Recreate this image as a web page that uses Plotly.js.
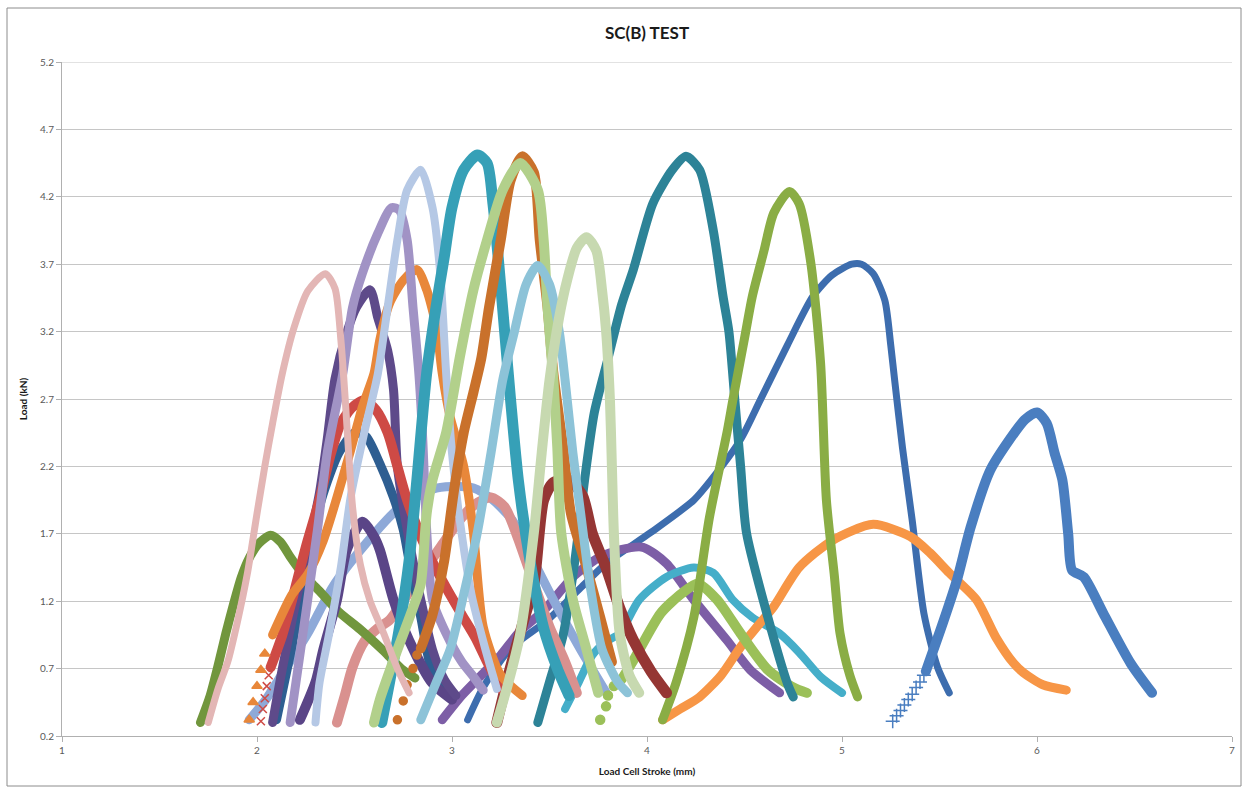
<!DOCTYPE html>
<html>
<head>
<meta charset="utf-8">
<script src="https://cdn.plot.ly/plotly-3.0.1.min.js"></script>
<style>
  html, body { margin: 0; padding: 0; background: #ffffff; }
  #chart { width: 1244px; height: 788px; }
  #chart path.js-line { stroke-linecap: round; stroke-linejoin: round; }
</style>
</head>
<body>
<div id="chart"></div>
<script>
// Load (kN) against load cell stroke (mm) for each SC(B) specimen
const s01x = [1.71,1.76,1.80,1.84,1.88,1.92,1.96,2.01,2.07,2.12,2.17,2.22,2.27,2.33,2.42,2.53,2.65,2.74,2.81];
const s01y = [0.30,0.50,0.72,0.96,1.18,1.38,1.52,1.63,1.69,1.64,1.53,1.43,1.35,1.26,1.12,0.99,0.83,0.70,0.63];

const s02x = [1.75,1.80,1.85,1.90,1.95,2.00,2.04,2.08,2.13,2.19,2.26,2.35,2.40,2.43,2.45,2.47,2.49,2.53,2.58,2.65,2.72,2.78];
const s02y = [0.30,0.55,0.75,1.05,1.40,1.85,2.20,2.52,2.89,3.23,3.50,3.63,3.52,3.14,2.75,2.30,1.90,1.47,1.20,0.96,0.70,0.52];

const s03x = [2.08,2.13,2.20,2.27,2.32,2.36,2.40,2.46,2.51,2.58,2.62,2.67,2.70,2.72,2.78,2.84,2.90,2.96,3.02];
const s03y = [0.30,0.70,1.20,1.65,2.00,2.40,2.85,3.19,3.38,3.51,3.30,3.06,2.77,2.20,1.65,1.21,0.84,0.62,0.50];

const s04x = [2.07,2.13,2.18,2.25,2.32,2.38,2.43,2.49,2.55,2.61,2.67,2.72,2.77,2.87,2.97,3.05,3.12,3.18,3.25];
const s04y = [0.71,0.95,1.21,1.60,1.95,2.30,2.52,2.64,2.69,2.62,2.45,2.20,1.95,1.58,1.30,1.10,0.93,0.75,0.55];
const s04markX = [2.02,2.03,2.04,2.05,2.06];
const s04markY = [0.31,0.40,0.48,0.57,0.65];

const s05x = [2.10,2.17,2.25,2.33,2.42,2.50,2.56,2.63,2.70,2.75,2.78,2.84,2.90,2.99];
const s05y = [0.32,0.80,1.40,1.95,2.30,2.45,2.42,2.22,1.97,1.73,1.50,1.08,0.67,0.52];

const s06x = [2.08,2.18,2.26,2.34,2.41,2.48,2.54,2.60,2.63,2.68,2.75,2.82,2.87,2.92,2.95,2.99,3.06,3.11,3.16,3.25,3.36];
const s06y = [0.95,1.25,1.40,1.65,1.97,2.32,2.64,2.89,3.14,3.41,3.58,3.66,3.51,3.23,2.89,2.57,2.20,1.71,1.01,0.65,0.50];
const s06markX = [1.96,1.98,2.00,2.02,2.04];
const s06markY = [0.32,0.45,0.57,0.69,0.81];

const s07x = [2.17,2.20,2.26,2.31,2.36,2.44,2.49,2.54,2.62,2.69,2.73,2.77,2.80,2.83,2.85,2.87,2.90,2.97,3.05,3.11,3.16];
const s07y = [0.30,0.60,1.21,1.73,2.30,2.89,3.38,3.63,3.93,4.12,4.10,3.88,3.38,2.89,2.40,1.73,1.21,0.96,0.75,0.64,0.54];

const s08x = [2.30,2.32,2.37,2.43,2.48,2.55,2.62,2.67,2.72,2.77,2.84,2.90,2.94,2.97,3.00,3.04,3.10,3.17,3.23];
const s08y = [0.30,0.59,0.96,1.45,1.97,2.45,2.89,3.38,3.88,4.25,4.40,4.12,3.63,2.89,2.30,1.80,1.25,0.85,0.55];

const s09x = [2.22,2.30,2.34,2.41,2.46,2.54,2.60,2.63,2.70,2.78,2.90,3.00];
const s09y = [0.32,0.60,0.84,1.21,1.58,1.79,1.68,1.58,1.21,0.91,0.59,0.47];

const s10x = [1.96,2.05,2.12,2.26,2.39,2.56,2.72,2.90,3.00,3.11,3.21,3.31,3.40,3.52,3.66,3.80];
const s10y = [0.32,0.48,0.64,0.96,1.31,1.63,1.88,2.03,2.05,2.04,1.95,1.80,1.55,1.21,0.84,0.50];

const s11x = [2.41,2.45,2.49,2.55,2.62,2.68,2.80,2.94,3.05,3.12,3.20,3.27,3.33,3.42,3.50,3.58,3.64];
const s11y = [0.30,0.50,0.71,0.90,1.00,1.06,1.31,1.60,1.82,1.92,1.97,1.90,1.70,1.33,1.01,0.75,0.52];

const s12x = [2.64,2.68,2.73,2.78,2.82,2.87,2.92,2.96,3.00,3.06,3.13,3.18,3.21,3.24,3.27,3.30,3.34,3.40,3.47,3.54,3.60];
const s12y = [0.30,0.60,1.00,1.50,2.10,2.89,3.40,3.75,4.12,4.40,4.51,4.45,4.15,3.70,3.20,2.70,2.10,1.50,1.00,0.70,0.50];

const s13x = [2.84,2.90,2.96,3.01,3.06,3.11,3.15,3.19,3.25,3.30,3.36,3.42,3.45,3.49,3.52,3.57,3.61,3.69,3.76,3.82];
const s13y = [0.85,1.10,1.50,2.02,2.45,2.75,3.00,3.38,3.88,4.32,4.50,4.38,3.88,3.38,2.89,2.34,1.85,1.45,1.08,0.75];
const s13markX = [2.72,2.75,2.77,2.80,2.82];
const s13markY = [0.32,0.46,0.58,0.70,0.80];

const s14x = [2.60,2.63,2.72,2.80,2.84,2.87,2.90,2.97,3.04,3.11,3.18,3.26,3.35,3.44,3.47,3.49,3.52,3.54,3.56,3.62,3.69,3.75];
const s14y = [0.30,0.47,0.84,1.15,1.33,1.85,2.10,2.45,3.01,3.51,3.88,4.25,4.45,4.25,3.88,3.38,2.84,2.34,1.71,1.21,0.84,0.52];

const s15x = [2.84,2.92,2.99,3.06,3.13,3.20,3.26,3.32,3.38,3.44,3.50,3.55,3.58,3.62,3.66,3.71,3.77,3.85,3.90];
const s15y = [0.32,0.60,0.84,1.25,1.71,2.30,2.84,3.20,3.55,3.69,3.55,3.20,2.84,2.30,1.85,1.30,0.84,0.60,0.52];

const s16x = [3.23,3.29,3.35,3.42,3.46,3.50,3.55,3.59,3.64,3.69,3.74,3.77,3.79,3.81,3.82,3.83,3.86,3.91,3.96];
const s16y = [0.30,0.60,0.96,1.71,2.30,2.84,3.31,3.58,3.82,3.90,3.80,3.50,3.21,2.69,2.20,1.71,0.96,0.65,0.52];

const s17x = [3.23,3.30,3.36,3.42,3.47,3.52,3.60,3.67,3.72,3.79,3.86,3.93,4.02,4.10];
const s17y = [0.30,0.71,1.02,1.33,1.95,2.08,2.10,1.98,1.70,1.45,1.15,0.91,0.68,0.52];

const s18x = [3.44,3.50,3.57,3.63,3.68,3.73,3.80,3.87,3.93,4.03,4.13,4.20,4.27,4.34,4.39,4.42,4.45,4.48,4.51,4.62,4.72,4.75];
const s18y = [0.30,0.60,0.95,1.50,2.10,2.60,3.00,3.40,3.66,4.15,4.40,4.50,4.40,3.95,3.46,3.20,2.70,2.20,1.71,1.08,0.59,0.49];

const s19x = [4.08,4.15,4.24,4.32,4.41,4.44,4.50,4.54,4.60,4.65,4.73,4.78,4.84,4.89,4.92,4.96,4.99,5.04,5.08];
const s19y = [0.32,0.60,1.08,1.82,2.45,2.69,3.15,3.46,3.80,4.08,4.24,4.15,3.71,2.97,1.95,1.40,0.96,0.65,0.49];

const s20x = [3.08,3.16,3.30,3.49,3.66,3.79,4.02,4.24,4.34,4.48,4.58,4.72,4.85,4.95,5.05,5.10,5.16,5.22,5.25,5.27,5.31,5.36,5.42,5.49,5.55];
const s20y = [0.32,0.56,0.85,1.06,1.30,1.48,1.71,1.95,2.12,2.40,2.69,3.10,3.46,3.62,3.70,3.70,3.63,3.43,3.10,2.84,2.34,1.80,1.11,0.71,0.52];

const s21x = [5.43,5.52,5.59,5.66,5.76,5.86,5.94,6.00,6.05,6.09,6.13,6.16,6.18,6.24,6.34,6.48,6.59];
const s21y = [0.68,1.05,1.36,1.75,2.17,2.40,2.55,2.60,2.52,2.30,2.10,1.70,1.43,1.38,1.11,0.74,0.52];
const s21markX = [5.26,5.28,5.30,5.32,5.34,5.36,5.38,5.40,5.42];
const s21markY = [0.31,0.35,0.39,0.43,0.47,0.51,0.56,0.60,0.65];

const s22x = [4.08,4.17,4.27,4.38,4.48,4.57,4.65,4.78,4.95,5.16,5.35,5.45,5.55,5.69,5.79,5.88,5.93,6.03,6.15];
const s22y = [0.32,0.40,0.49,0.65,0.86,1.02,1.16,1.45,1.65,1.77,1.68,1.56,1.41,1.21,0.93,0.74,0.67,0.58,0.54];

const s23x = [2.95,3.05,3.15,3.25,3.35,3.47,3.62,3.75,3.86,3.98,4.10,4.24,4.41,4.53,4.68];
const s23y = [0.32,0.50,0.65,0.80,0.98,1.13,1.38,1.52,1.58,1.60,1.48,1.21,0.91,0.69,0.52];

const s24x = [3.58,3.65,3.72,3.79,3.86,3.96,4.10,4.24,4.34,4.44,4.54,4.68,4.78,4.89,5.00];
const s24y = [0.40,0.60,0.80,0.90,0.96,1.21,1.38,1.45,1.41,1.21,1.08,0.96,0.82,0.64,0.52];

const s25x = [3.87,3.93,4.07,4.18,4.26,4.36,4.48,4.62,4.75,4.82];
const s25y = [0.62,0.76,1.11,1.26,1.33,1.21,0.96,0.69,0.56,0.52];
const s25markX = [3.76,3.79,3.80,3.83];
const s25markY = [0.32,0.42,0.50,0.57];

// Axis ticks
const xTicks = [1, 2, 3, 4, 5, 6, 7];
const yTicks = [0.2, 0.7, 1.2, 1.7, 2.2, 2.7, 3.2, 3.7, 4.2, 4.7, 5.2];

function curve(x, y, color, width) {
  return {
    type: 'scatter', mode: 'lines', x: x, y: y, showlegend: false, hoverinfo: 'skip',
    line: { color: color, width: width, shape: 'spline', smoothing: 0.7 }
  };
}
function marks(x, y, color, symbol, size) {
  return {
    type: 'scatter', mode: 'markers', x: x, y: y, showlegend: false, hoverinfo: 'skip',
    marker: { color: color, symbol: symbol, size: size, line: { color: color, width: 1.5 } }
  };
}

// Drawing order: later series sit on top
const traces = [
  curve(s20x, s20y, '#3D6DAE', 7),
  curve(s23x, s23y, '#7D5EA6', 9),
  curve(s10x, s10y, '#8EA9D8', 9),
  curve(s24x, s24y, '#45AEC9', 8),
  curve(s22x, s22y, '#F79646', 9),
  curve(s25x, s25y, '#9BC059', 10),
  marks(s25markX, s25markY, '#9BC059', 'circle', 9),
  curve(s21x, s21y, '#4A7EC0', 10),
  marks(s21markX, s21markY, '#4A7EC0', 'cross-thin', 10),
  curve(s18x, s18y, '#2D8397', 9),
  curve(s19x, s19y, '#8AAD45', 9),
  curve(s17x, s17y, '#953634', 11),
  curve(s11x, s11y, '#D9918F', 10),
  curve(s01x, s01y, '#71963D', 9),
  curve(s05x, s05y, '#2E5E91', 9),
  curve(s09x, s09y, '#5A4587', 10),
  curve(s03x, s03y, '#5E4A8A', 9),
  curve(s04x, s04y, '#CE4A45', 10),
  marks(s04markX, s04markY, '#CE4A45', 'x-thin', 8),
  curve(s06x, s06y, '#E8873A', 9),
  marks(s06markX, s06markY, '#E8873A', 'triangle-up', 9),
  curve(s07x, s07y, '#A193C5', 9),
  curve(s08x, s08y, '#B5C8E5', 8),
  curve(s12x, s12y, '#36A0B7', 11),
  curve(s13x, s13y, '#C9712B', 10),
  marks(s13markX, s13markY, '#C9712B', 'circle', 8),
  curve(s14x, s14y, '#B2D08B', 10),
  curve(s15x, s15y, '#8DC3D8', 9),
  curve(s16x, s16y, '#C7D9B0', 10),
  curve(s02x, s02y, '#E3B6B5', 7)
];

const fontFam = 'Lato, "Open Sans", "DejaVu Sans", sans-serif';

const layout = {
  width: 1244, height: 788,
  paper_bgcolor: '#ffffff', plot_bgcolor: '#ffffff',
  margin: { l: 62, r: 12, t: 62, b: 52 },
  showlegend: false,
  title: {
    text: '<b>SC(B) TEST</b>',
    font: { family: fontFam, size: 17, color: '#1a1a1a' },
    x: 0.5, xref: 'paper', xanchor: 'center',
    y: 0.958, yref: 'container', yanchor: 'middle'
  },
  xaxis: {
    range: [1, 7], tickvals: xTicks, ticktext: xTicks.map(String),
    showgrid: false, zeroline: false,
    showline: true, linecolor: '#b0b0b0', linewidth: 1,
    ticks: 'outside', ticklen: 5, tickcolor: '#b0b0b0',
    tickfont: { family: fontFam, size: 10, color: '#595959' },
    title: { text: '<b>Load Cell Stroke (mm)</b>', font: { family: fontFam, size: 10, color: '#1a1a1a' }, standoff: 12 }
  },
  yaxis: {
    range: [0.2, 5.2], tickvals: yTicks, ticktext: yTicks.map(v => v.toFixed(1)),
    showgrid: true, gridcolor: '#c6c6c6', gridwidth: 1, zeroline: false,
    showline: true, linecolor: '#b0b0b0', linewidth: 1,
    ticks: 'outside', ticklen: 5, tickcolor: '#b0b0b0',
    tickfont: { family: fontFam, size: 10, color: '#595959' },
    title: { text: '<b>Load (kN)</b>', font: { family: fontFam, size: 10, color: '#1a1a1a' }, standoff: 10 }
  },
  shapes: [
    { type: 'rect', xref: 'paper', yref: 'paper', x0: -0.047, x1: 1.0077, y0: -0.0742, y1: 1.0801,
      line: { color: '#8c8c8c', width: 1 }, fillcolor: 'rgba(0,0,0,0)', layer: 'below' },
    { type: 'line', xref: 'paper', yref: 'y', x0: 0, x1: 1, y0: 5.2, y1: 5.2,
      line: { color: '#c6c6c6', width: 1 }, layer: 'below' }
  ]
};

Plotly.newPlot('chart', traces, layout, { staticPlot: true, displayModeBar: false });
</script>
</body>
</html>
